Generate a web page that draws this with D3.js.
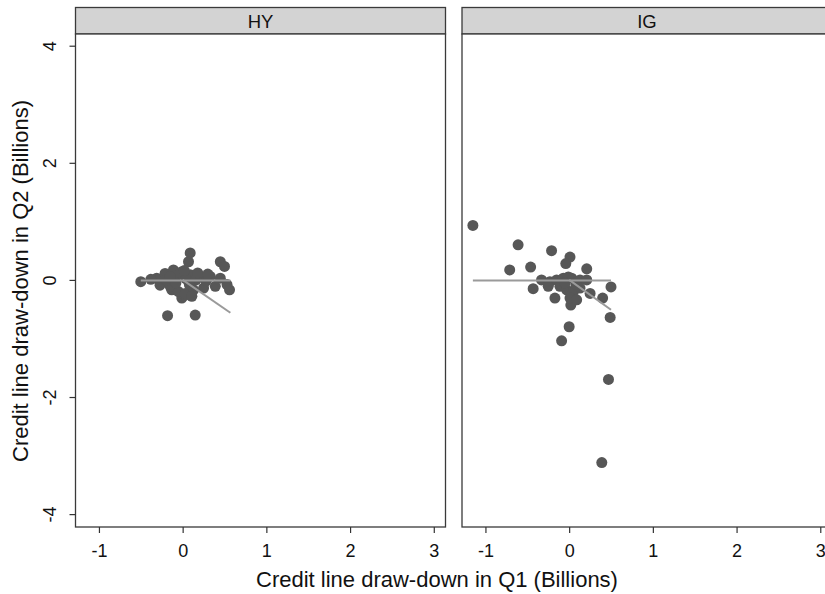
<!DOCTYPE html>
<html>
<head>
<meta charset="utf-8">
<script src="https://cdn.jsdelivr.net/npm/d3@7"></script>
<style>
  body { margin: 0; background: #fff; }
  svg { display: block; font-family: "Liberation Sans", Arial, sans-serif; }
</style>
</head>
<body>
<div id="vis"></div>
<script>
// Datos (miles de millones)
const panels = ["HY", "IG"];

const hyX = [-0.50, 0.09, 0.07, 0.45, 0.50, 0.53, 0.56, -0.18, 0.15, -0.01, 0.03, -0.13,
  -0.31, -0.21, -0.11, -0.01, 0.09, 0.21, 0.33, 0.45, -0.27, -0.15, -0.05, 0.03, 0.13,
  0.25, 0.39, 0.11, -0.38, -0.06, 0.04, 0.16, 0.28, -0.20, -0.08, 0.08, 0.18, 0.30, -0.15, 0.02];
const hyY = [-0.03, 0.46, 0.31, 0.31, 0.23, -0.08, -0.17, -0.61, -0.60, -0.31, -0.26, -0.17,
  0.03, 0.11, 0.17, 0.14, 0.09, 0.06, 0.06, 0.03, -0.09, -0.11, -0.20, -0.23, -0.17,
  -0.14, -0.11, -0.28, 0.01, 0.08, 0.02, 0.00, -0.02, 0.00, -0.05, -0.08, 0.12, 0.10, 0.06, 0.16];

const igX = [-1.15, -0.61, -0.21, 0.01, -0.04, -0.71, -0.46, 0.21, -0.33, -0.43, -0.17, 0.50,
  0.40, 0.49, 0.00, -0.09, 0.02, 0.47, 0.39, -0.23, -0.15, -0.07, 0.03, 0.13, 0.21, -0.25,
  -0.11, -0.03, 0.05, 0.13, 0.25, 0.01, 0.09, -0.01, 0.08, -0.05];
const igY = [0.93, 0.60, 0.50, 0.39, 0.28, 0.17, 0.22, 0.19, 0.00, -0.15, -0.31, -0.12,
  -0.31, -0.64, -0.80, -1.04, -0.43, -1.70, -3.12, -0.03, 0.00, 0.03, 0.03, 0.00, 0.00, -0.11,
  -0.11, -0.17, -0.20, -0.14, -0.23, -0.31, -0.34, 0.05, -0.08, -0.05];

// Rectas ajustadas: [x0, y0, x1, y1]
const hyFit = [[-0.50, -0.01, 0.57, -0.01], [0, 0, 0.57, -0.56]];
const igFit = [[-1.15, -0.01, 0.50, -0.01], [0, 0, 0.50, -0.51]];

const xTicks = [-1, 0, 1, 2, 3];
const yTicks = [-4, -2, 0, 2, 4];

const xTitle = "Credit line draw-down in Q1 (Billions)";
const yTitle = "Credit line draw-down in Q2 (Billions)";

/******************************************************************** 
Tamaños
*********************************************************************/
const WIDTH = 825, HEIGHT = 594;
const panelLeft = [75.5, 462];
const panelW = 370;
const headerTop = 7.5, plotTop = 34, plotBottom = 527;
const FONT = "Liberation Sans, Arial, sans-serif";

const svg = d3.select("#vis").append("svg")
  .attr("width", WIDTH).attr("height", HEIGHT);

const y = d3.scaleLinear().domain([-4.22, 4.2]).range([plotBottom, plotTop]);

const seriesData = [
  { pts: hyX.map((d, i) => [d, hyY[i]]), fit: hyFit },
  { pts: igX.map((d, i) => [d, igY[i]]), fit: igFit }
];

panels.forEach((name, p) => {
  const x0 = panelLeft[p];
  const x = d3.scaleLinear().domain([-1.28, 3.14]).range([x0, x0 + panelW]);
  const g = svg.append("g");

  // franja del título
  g.append("rect")
    .attr("x", x0).attr("y", headerTop)
    .attr("width", panelW).attr("height", plotTop - headerTop)
    .attr("fill", "#d3d3d3").attr("stroke", "#3a3a3a").attr("stroke-width", 1.3);
  g.append("text")
    .attr("x", x0 + panelW / 2).attr("y", 28)
    .attr("text-anchor", "middle").attr("font-size", 18.5).attr("fill", "#111")
    .text(name);

  // fondo del panel
  g.append("rect")
    .attr("x", x0).attr("y", plotTop)
    .attr("width", panelW).attr("height", plotBottom - plotTop)
    .attr("fill", "#fff").attr("stroke", "#3a3a3a").attr("stroke-width", 1.3);

  // eje x
  const xAxis = g.append("g")
    .attr("transform", `translate(0,${plotBottom})`)
    .call(d3.axisBottom(x).tickValues(xTicks).tickFormat(d => String(d))
      .tickSize(6).tickSizeOuter(0));
  xAxis.select(".domain").remove();
  xAxis.selectAll("line").attr("stroke", "#333").attr("stroke-width", 1.2);
  xAxis.selectAll("text").attr("font-size", 18).attr("fill", "#111")
    .attr("font-family", FONT)
    .attr("y", 30).attr("dy", null);

  // eje y sólo en el primer panel
  if (p === 0) {
    const yAxis = g.append("g")
      .attr("transform", `translate(${x0},0)`)
      .call(d3.axisLeft(y).tickValues(yTicks).tickFormat(d => String(d))
        .tickSize(6).tickSizeOuter(0));
    yAxis.select(".domain").remove();
    yAxis.selectAll("line").attr("stroke", "#333").attr("stroke-width", 1.2);
    yAxis.selectAll("text")
      .attr("font-size", 18).attr("fill", "#111")
      .attr("font-family", FONT)
      .attr("x", null).attr("dy", null)
      .attr("text-anchor", "middle")
      .attr("transform", `translate(${56 - x0},0) rotate(-90)`);
  }

  // puntos
  g.append("g").selectAll("circle")
    .data(seriesData[p].pts)
    .enter()
    .append("circle")
    .attr("cx", d => x(d[0]))
    .attr("cy", d => y(d[1]))
    .attr("r", 5.5)
    .attr("fill", "#575757");

  // rectas
  g.append("g").selectAll("line")
    .data(seriesData[p].fit)
    .enter()
    .append("line")
    .attr("x1", d => x(d[0])).attr("y1", d => y(d[1]))
    .attr("x2", d => x(d[2])).attr("y2", d => y(d[3]))
    .attr("stroke", "#9a9a9a").attr("stroke-width", 2);
});

// títulos de ejes
svg.append("text")
  .attr("x", 437).attr("y", 587)
  .attr("text-anchor", "middle").attr("font-size", 22).attr("fill", "#111")
  .text(xTitle);

svg.append("text")
  .attr("transform", "translate(28,281) rotate(-90)")
  .attr("text-anchor", "middle").attr("font-size", 22).attr("fill", "#111")
  .text(yTitle);
</script>
</body>
</html>
